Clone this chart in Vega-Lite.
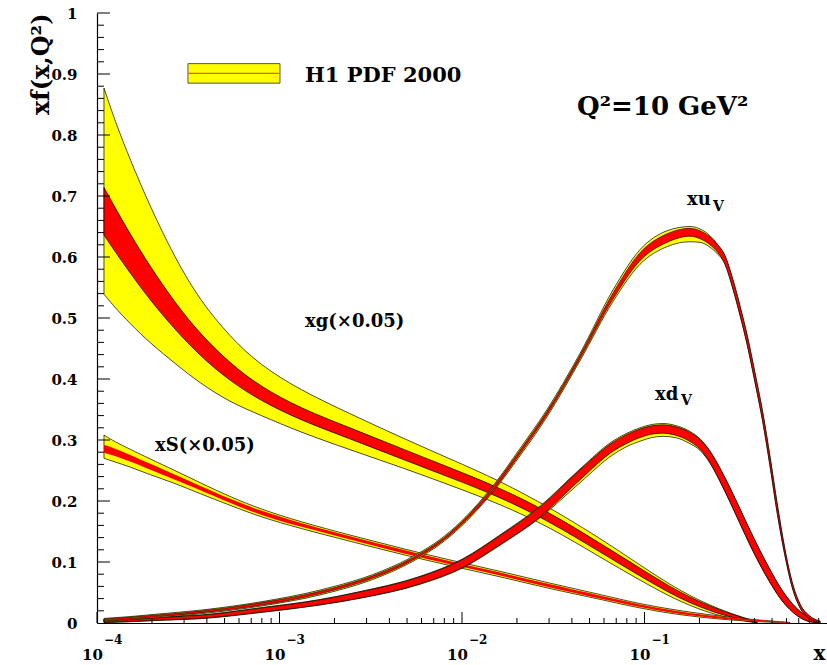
{
  "$schema": "https://vega.github.io/schema/vega-lite/v6.json",
  "width": 730,
  "height": 610,
  "autosize": {"type": "none"},
  "padding": {"left": 97, "top": 13, "right": 0, "bottom": 42},
  "background": "white",
  "config": {"view": {"stroke": null}, "axis": {"grid": false}, "font": "DejaVu Serif"},
  "datasets": {
    "one": [{}],
    "g": [
      {"x": 0.0001092, "yhi": 0.877, "ylo": 0.539, "rhi": 0.714, "rlo": 0.636},
      {"x": 0.0001255, "yhi": 0.823, "ylo": 0.517, "rhi": 0.681, "rlo": 0.609},
      {"x": 0.0001516, "yhi": 0.760, "ylo": 0.491, "rhi": 0.638, "rlo": 0.574},
      {"x": 0.0001952, "yhi": 0.683, "ylo": 0.459, "rhi": 0.5845, "rlo": 0.5295},
      {"x": 0.0002675, "yhi": 0.598, "ylo": 0.4255, "rhi": 0.525, "rlo": 0.481},
      {"x": 0.0003667, "yhi": 0.529, "ylo": 0.393, "rhi": 0.474, "rlo": 0.438},
      {"x": 0.0005356, "yhi": 0.469, "ylo": 0.362, "rhi": 0.4255, "rlo": 0.3965},
      {"x": 0.0007821, "yhi": 0.423, "ylo": 0.341, "rhi": 0.388, "rlo": 0.365},
      {"x": 0.001295, "yhi": 0.382, "ylo": 0.313, "rhi": 0.3523, "rlo": 0.3327},
      {"x": 0.002434, "yhi": 0.343, "ylo": 0.284, "rhi": 0.320, "rlo": 0.302},
      {"x": 0.004574, "yhi": 0.305, "ylo": 0.256, "rhi": 0.287, "rlo": 0.270},
      {"x": 0.008597, "yhi": 0.269, "ylo": 0.226, "rhi": 0.2545, "rlo": 0.2385},
      {"x": 0.01616, "yhi": 0.233, "ylo": 0.195, "rhi": 0.2215, "rlo": 0.2065},
      {"x": 0.03036, "yhi": 0.189, "ylo": 0.157, "rhi": 0.181, "rlo": 0.166},
      {"x": 0.05706, "yhi": 0.139, "ylo": 0.108, "rhi": 0.1307, "rlo": 0.1163},
      {"x": 0.09449, "yhi": 0.095, "ylo": 0.070, "rhi": 0.090, "rlo": 0.077},
      {"x": 0.1565, "yhi": 0.052, "ylo": 0.034, "rhi": 0.049, "rlo": 0.039},
      {"x": 0.2592, "yhi": 0.021, "ylo": 0.010, "rhi": 0.020, "rlo": 0.013},
      {"x": 0.4135, "yhi": 0.002, "ylo": 0.000, "rhi": 0.002, "rlo": 0.000}
    ],
    "s": [
      {"x": 0.0001092, "yhi": 0.308, "ylo": 0.270, "rhi": 0.292, "rlo": 0.279},
      {"x": 0.0001255, "yhi": 0.297, "ylo": 0.264, "rhi": 0.286, "rlo": 0.274},
      {"x": 0.0001516, "yhi": 0.285, "ylo": 0.256, "rhi": 0.276, "rlo": 0.265},
      {"x": 0.0001952, "yhi": 0.269, "ylo": 0.243, "rhi": 0.261, "rlo": 0.251},
      {"x": 0.0002675, "yhi": 0.250, "ylo": 0.229, "rhi": 0.243, "rlo": 0.235},
      {"x": 0.0003667, "yhi": 0.230, "ylo": 0.212, "rhi": 0.225, "rlo": 0.218},
      {"x": 0.0005356, "yhi": 0.207, "ylo": 0.193, "rhi": 0.203, "rlo": 0.197},
      {"x": 0.0007821, "yhi": 0.187, "ylo": 0.174, "rhi": 0.184, "rlo": 0.177},
      {"x": 0.001295, "yhi": 0.166, "ylo": 0.155, "rhi": 0.164, "rlo": 0.158},
      {"x": 0.002434, "yhi": 0.144, "ylo": 0.134, "rhi": 0.142, "rlo": 0.137},
      {"x": 0.004574, "yhi": 0.123, "ylo": 0.113, "rhi": 0.121, "rlo": 0.115},
      {"x": 0.008597, "yhi": 0.103, "ylo": 0.094, "rhi": 0.101, "rlo": 0.096},
      {"x": 0.01616, "yhi": 0.085, "ylo": 0.076, "rhi": 0.083, "rlo": 0.078},
      {"x": 0.03036, "yhi": 0.065, "ylo": 0.056, "rhi": 0.063, "rlo": 0.058},
      {"x": 0.05706, "yhi": 0.047, "ylo": 0.039, "rhi": 0.045, "rlo": 0.040},
      {"x": 0.09449, "yhi": 0.031, "ylo": 0.024, "rhi": 0.030, "rlo": 0.026},
      {"x": 0.1565, "yhi": 0.020, "ylo": 0.013, "rhi": 0.018, "rlo": 0.014},
      {"x": 0.2592, "yhi": 0.011, "ylo": 0.006, "rhi": 0.010, "rlo": 0.007},
      {"x": 0.4135, "yhi": 0.005, "ylo": 0.002, "rhi": 0.005, "rlo": 0.002},
      {"x": 0.627, "yhi": 0.001, "ylo": 0.000, "rhi": 0.001, "rlo": 0.000}
    ],
    "dv": [
      {"x": 0.0001092, "yhi": 0.0055, "ylo": 0.0005, "rhi": 0.005, "rlo": 0.001},
      {"x": 0.0001516, "yhi": 0.007, "ylo": 0.002, "rhi": 0.0065, "rlo": 0.0025},
      {"x": 0.0002214, "yhi": 0.0097, "ylo": 0.0043, "rhi": 0.0092, "rlo": 0.0048},
      {"x": 0.0003667, "yhi": 0.013, "ylo": 0.007, "rhi": 0.0125, "rlo": 0.0075},
      {"x": 0.0007821, "yhi": 0.025, "ylo": 0.017, "rhi": 0.0243, "rlo": 0.0177},
      {"x": 0.001667, "yhi": 0.0385, "ylo": 0.0295, "rhi": 0.038, "rlo": 0.030},
      {"x": 0.002761, "yhi": 0.0515, "ylo": 0.0405, "rhi": 0.051, "rlo": 0.041},
      {"x": 0.005888, "yhi": 0.0765, "ylo": 0.0635, "rhi": 0.0757, "rlo": 0.0643},
      {"x": 0.01013, "yhi": 0.1055, "ylo": 0.0905, "rhi": 0.1046, "rlo": 0.0914},
      {"x": 0.01616, "yhi": 0.1445, "ylo": 0.1275, "rhi": 0.1434, "rlo": 0.1286},
      {"x": 0.02676, "yhi": 0.1915, "ylo": 0.1725, "rhi": 0.1902, "rlo": 0.1738},
      {"x": 0.04432, "yhi": 0.2525, "ylo": 0.230, "rhi": 0.2512, "rlo": 0.2348},
      {"x": 0.06722, "yhi": 0.2985, "ylo": 0.276, "rhi": 0.2964, "rlo": 0.2816},
      {"x": 0.08022, "yhi": 0.3112, "ylo": 0.2895, "rhi": 0.3092, "rlo": 0.2948},
      {"x": 0.09449, "yhi": 0.320, "ylo": 0.298, "rhi": 0.318, "rlo": 0.304},
      {"x": 0.1099, "yhi": 0.3255, "ylo": 0.304, "rhi": 0.3233, "rlo": 0.3097},
      {"x": 0.1263, "yhi": 0.327, "ylo": 0.306, "rhi": 0.3248, "rlo": 0.3112},
      {"x": 0.1470, "yhi": 0.324, "ylo": 0.304, "rhi": 0.322, "rlo": 0.308},
      {"x": 0.1775, "yhi": 0.314, "ylo": 0.294, "rhi": 0.3125, "rlo": 0.2975},
      {"x": 0.2014, "yhi": 0.302, "ylo": 0.283, "rhi": 0.301, "rlo": 0.285},
      {"x": 0.2285, "yhi": 0.282, "ylo": 0.262, "rhi": 0.281, "rlo": 0.263},
      {"x": 0.2592, "yhi": 0.254, "ylo": 0.232, "rhi": 0.2535, "rlo": 0.2325},
      {"x": 0.2941, "yhi": 0.2215, "ylo": 0.1985, "rhi": 0.2215, "rlo": 0.1985},
      {"x": 0.3337, "yhi": 0.187, "ylo": 0.163, "rhi": 0.187, "rlo": 0.163},
      {"x": 0.3785, "yhi": 0.152, "ylo": 0.128, "rhi": 0.152, "rlo": 0.128},
      {"x": 0.4296, "yhi": 0.1185, "ylo": 0.0955, "rhi": 0.1185, "rlo": 0.0955},
      {"x": 0.4872, "yhi": 0.0875, "ylo": 0.0665, "rhi": 0.0875, "rlo": 0.0665},
      {"x": 0.5527, "yhi": 0.059, "ylo": 0.041, "rhi": 0.059, "rlo": 0.041},
      {"x": 0.627, "yhi": 0.036, "ylo": 0.022, "rhi": 0.036, "rlo": 0.022},
      {"x": 0.7114, "yhi": 0.019, "ylo": 0.009, "rhi": 0.019, "rlo": 0.009},
      {"x": 0.8070, "yhi": 0.008, "ylo": 0.002, "rhi": 0.008, "rlo": 0.002},
      {"x": 0.9155, "yhi": 0.002, "ylo": 0.0002, "rhi": 0.002, "rlo": 0.0002}
    ],
    "uv": [
      {"x": 0.0001092, "yhi": 0.0075, "ylo": 0.0025, "rhi": 0.0065, "rlo": 0.0035},
      {"x": 0.0001516, "yhi": 0.0105, "ylo": 0.0055, "rhi": 0.0095, "rlo": 0.0065},
      {"x": 0.0002214, "yhi": 0.015, "ylo": 0.009, "rhi": 0.0135, "rlo": 0.0105},
      {"x": 0.0003667, "yhi": 0.021, "ylo": 0.015, "rhi": 0.0195, "rlo": 0.0165},
      {"x": 0.0007821, "yhi": 0.0345, "ylo": 0.0275, "rhi": 0.033, "rlo": 0.029},
      {"x": 0.001667, "yhi": 0.054, "ylo": 0.046, "rhi": 0.052, "rlo": 0.048},
      {"x": 0.003554, "yhi": 0.084, "ylo": 0.076, "rhi": 0.082, "rlo": 0.078},
      {"x": 0.004996, "yhi": 0.104, "ylo": 0.096, "rhi": 0.102, "rlo": 0.098},
      {"x": 0.008597, "yhi": 0.150, "ylo": 0.142, "rhi": 0.148, "rlo": 0.144},
      {"x": 0.01479, "yhi": 0.225, "ylo": 0.215, "rhi": 0.223, "rlo": 0.217},
      {"x": 0.02078, "yhi": 0.286, "ylo": 0.274, "rhi": 0.283, "rlo": 0.277},
      {"x": 0.02923, "yhi": 0.350, "ylo": 0.338, "rhi": 0.347, "rlo": 0.341},
      {"x": 0.04432, "yhi": 0.442, "ylo": 0.430, "rhi": 0.439, "rlo": 0.433},
      {"x": 0.06722, "yhi": 0.546, "ylo": 0.527, "rhi": 0.541, "rlo": 0.531},
      {"x": 0.09449, "yhi": 0.612, "ylo": 0.588, "rhi": 0.607, "rlo": 0.594},
      {"x": 0.1329, "yhi": 0.643, "ylo": 0.617, "rhi": 0.638, "rlo": 0.624},
      {"x": 0.1775, "yhi": 0.650, "ylo": 0.625, "rhi": 0.647, "rlo": 0.634},
      {"x": 0.2014, "yhi": 0.646, "ylo": 0.624, "rhi": 0.643, "rlo": 0.630},
      {"x": 0.2285, "yhi": 0.635, "ylo": 0.616, "rhi": 0.633, "rlo": 0.620},
      {"x": 0.2496, "yhi": 0.622, "ylo": 0.606, "rhi": 0.621, "rlo": 0.609},
      {"x": 0.2761, "yhi": 0.602, "ylo": 0.588, "rhi": 0.602, "rlo": 0.588},
      {"x": 0.3053, "yhi": 0.5625, "ylo": 0.5475, "rhi": 0.5625, "rlo": 0.5475},
      {"x": 0.3337, "yhi": 0.5195, "ylo": 0.5045, "rhi": 0.5195, "rlo": 0.5045},
      {"x": 0.3645, "yhi": 0.4725, "ylo": 0.4575, "rhi": 0.4725, "rlo": 0.4575},
      {"x": 0.4032, "yhi": 0.4095, "ylo": 0.3945, "rhi": 0.4095, "rlo": 0.3945},
      {"x": 0.4460, "yhi": 0.3425, "ylo": 0.3275, "rhi": 0.3425, "rlo": 0.3275},
      {"x": 0.4872, "yhi": 0.2725, "ylo": 0.2575, "rhi": 0.2725, "rlo": 0.2575},
      {"x": 0.5321, "yhi": 0.1975, "ylo": 0.1825, "rhi": 0.1975, "rlo": 0.1825},
      {"x": 0.5888, "yhi": 0.120, "ylo": 0.110, "rhi": 0.120, "rlo": 0.110},
      {"x": 0.6511, "yhi": 0.062, "ylo": 0.054, "rhi": 0.062, "rlo": 0.054},
      {"x": 0.7114, "yhi": 0.031, "ylo": 0.025, "rhi": 0.031, "rlo": 0.025},
      {"x": 0.8070, "yhi": 0.011, "ylo": 0.007, "rhi": 0.011, "rlo": 0.007},
      {"x": 0.9155, "yhi": 0.003, "ylo": 0.001, "rhi": 0.003, "rlo": 0.001}
    ],
    "ymajor": [{"v": 0.1}, {"v": 0.2}, {"v": 0.3}, {"v": 0.4}, {"v": 0.5}, {"v": 0.6}, {"v": 0.7}, {"v": 0.8}, {"v": 0.9}, {"v": 1.0}],
    "yminor": [
      {"v": 0.02}, {"v": 0.04}, {"v": 0.06}, {"v": 0.08},
      {"v": 0.12}, {"v": 0.14}, {"v": 0.16}, {"v": 0.18},
      {"v": 0.22}, {"v": 0.24}, {"v": 0.26}, {"v": 0.28},
      {"v": 0.32}, {"v": 0.34}, {"v": 0.36}, {"v": 0.38},
      {"v": 0.42}, {"v": 0.44}, {"v": 0.46}, {"v": 0.48},
      {"v": 0.52}, {"v": 0.54}, {"v": 0.56}, {"v": 0.58},
      {"v": 0.62}, {"v": 0.64}, {"v": 0.66}, {"v": 0.68},
      {"v": 0.72}, {"v": 0.74}, {"v": 0.76}, {"v": 0.78},
      {"v": 0.82}, {"v": 0.84}, {"v": 0.86}, {"v": 0.88},
      {"v": 0.92}, {"v": 0.94}, {"v": 0.96}, {"v": 0.98}
    ],
    "decades": [{"v": 0.0001, "e": "−4"}, {"v": 0.001, "e": "−3"}, {"v": 0.01, "e": "−2"}, {"v": 0.1, "e": "−1"}],
    "xminor": [
      {"v": 0.0002}, {"v": 0.0003}, {"v": 0.0004}, {"v": 0.0005}, {"v": 0.0006}, {"v": 0.0007}, {"v": 0.0008}, {"v": 0.0009},
      {"v": 0.002}, {"v": 0.003}, {"v": 0.004}, {"v": 0.005}, {"v": 0.006}, {"v": 0.007}, {"v": 0.008}, {"v": 0.009},
      {"v": 0.02}, {"v": 0.03}, {"v": 0.04}, {"v": 0.05}, {"v": 0.06}, {"v": 0.07}, {"v": 0.08}, {"v": 0.09},
      {"v": 0.2}, {"v": 0.3}, {"v": 0.4}, {"v": 0.5}, {"v": 0.6}, {"v": 0.7}, {"v": 0.8}, {"v": 0.9}
    ]
  },
  "layer": [
    {
      "data": {"name": "g"},
      "mark": {"type": "area", "interpolate": "basis", "fill": "#ffff00", "stroke": "#000000", "strokeWidth": 0.7},
      "encoding": {
        "x": {"field": "x", "type": "quantitative",
          "scale": {"type": "log", "domain": [0.0001, 1], "nice": false},
          "axis": {"values": [0.0001, 0.001, 0.01, 0.1], "ticks": false, "labelExpr": "'10'",
            "labelFont": "DejaVu Serif", "labelFontWeight": "bold", "labelFontSize": 15, "labelColor": "black",
            "labelPadding": 24, "labelOffset": -5, "labelFlush": false, "labelOverlap": false, "labelBound": false,
            "labelBaseline": "top", "labelAlign": "center",
            "domainColor": "black", "domainWidth": 1.2,
            "title": "x", "titleFont": "DejaVu Serif", "titleFontWeight": "bold", "titleFontSize": 20, "titleColor": "black",
            "titleX": 722, "titleY": 36, "titleAlign": "center", "titleBaseline": "alphabetic"}},
        "y": {"field": "yhi", "type": "quantitative",
          "scale": {"domain": [0, 1], "nice": false, "zero": false},
          "axis": {"values": [0, 0.1, 0.2, 0.3, 0.4, 0.5, 0.6, 0.7, 0.8, 0.9, 1], "ticks": false, "format": ".1~f",
            "labelFont": "DejaVu Serif", "labelFontWeight": "bold", "labelFontSize": 15, "labelColor": "black",
            "labelPadding": 20, "labelFlush": false, "labelOverlap": false, "labelBound": false,
            "domainColor": "black", "domainWidth": 1.2,
            "title": "xf(x,Q²)", "titleFont": "DejaVu Serif", "titleFontWeight": "bold", "titleFontSize": 24, "titleColor": "black",
            "titleAngle": 270, "titleAlign": "right", "titleBaseline": "alphabetic", "titleX": -49, "titleY": 0}},
        "y2": {"field": "ylo"}
      }
    },
    {
      "data": {"name": "g"},
      "mark": {"type": "area", "interpolate": "basis", "fill": "#ff0000", "stroke": "#000000", "strokeWidth": 0.7},
      "encoding": {"x": {"field": "x", "type": "quantitative"}, "y": {"field": "rhi", "type": "quantitative"}, "y2": {"field": "rlo"}}
    },
    {
      "data": {"name": "s"},
      "mark": {"type": "area", "interpolate": "basis", "fill": "#ffff00", "stroke": "#000000", "strokeWidth": 0.7},
      "encoding": {"x": {"field": "x", "type": "quantitative"}, "y": {"field": "yhi", "type": "quantitative"}, "y2": {"field": "ylo"}}
    },
    {
      "data": {"name": "s"},
      "mark": {"type": "area", "interpolate": "basis", "fill": "#ff0000", "strokeWidth": 0},
      "encoding": {"x": {"field": "x", "type": "quantitative"}, "y": {"field": "rhi", "type": "quantitative"}, "y2": {"field": "rlo"}}
    },
    {
      "data": {"name": "dv"},
      "mark": {"type": "area", "interpolate": "monotone", "fill": "#ffff00", "stroke": "#000000", "strokeWidth": 0.7},
      "encoding": {"x": {"field": "x", "type": "quantitative"}, "y": {"field": "yhi", "type": "quantitative"}, "y2": {"field": "ylo"}}
    },
    {
      "data": {"name": "dv"},
      "mark": {"type": "area", "interpolate": "monotone", "fill": "#ff0000", "stroke": "#000000", "strokeWidth": 0.7},
      "encoding": {"x": {"field": "x", "type": "quantitative"}, "y": {"field": "rhi", "type": "quantitative"}, "y2": {"field": "rlo"}}
    },
    {
      "data": {"name": "uv"},
      "mark": {"type": "area", "interpolate": "monotone", "fill": "#ffff00", "stroke": "#000000", "strokeWidth": 0.7},
      "encoding": {"x": {"field": "x", "type": "quantitative"}, "y": {"field": "yhi", "type": "quantitative"}, "y2": {"field": "ylo"}}
    },
    {
      "data": {"name": "uv"},
      "mark": {"type": "area", "interpolate": "monotone", "fill": "#ff0000", "stroke": "#000000", "strokeWidth": 0.6},
      "encoding": {"x": {"field": "x", "type": "quantitative"}, "y": {"field": "rhi", "type": "quantitative"}, "y2": {"field": "rlo"}}
    },
    {
      "data": {"name": "ymajor"},
      "mark": {"type": "rule", "color": "black", "strokeWidth": 1},
      "encoding": {"y": {"field": "v", "type": "quantitative"}, "x": {"datum": 0.0001, "type": "quantitative"}, "x2": {"datum": 0.0001178}}
    },
    {
      "data": {"name": "yminor"},
      "mark": {"type": "rule", "color": "black", "strokeWidth": 1},
      "encoding": {"y": {"field": "v", "type": "quantitative"}, "x": {"datum": 0.0001, "type": "quantitative"}, "x2": {"datum": 0.0001092}}
    },
    {
      "data": {"name": "decades"},
      "mark": {"type": "rule", "color": "black", "strokeWidth": 1},
      "encoding": {"x": {"field": "v", "type": "quantitative"}, "y": {"datum": 0, "type": "quantitative"}, "y2": {"datum": 0.018}}
    },
    {
      "data": {"name": "xminor"},
      "mark": {"type": "rule", "color": "black", "strokeWidth": 1},
      "encoding": {"x": {"field": "v", "type": "quantitative"}, "y": {"datum": 0, "type": "quantitative"}, "y2": {"datum": 0.0082}}
    },
    {
      "data": {"name": "decades"},
      "mark": {"type": "text", "font": "DejaVu Serif", "fontWeight": "bold", "fontSize": 12, "align": "left", "baseline": "middle", "dx": 7, "dy": 17, "color": "black"},
      "encoding": {"x": {"field": "v", "type": "quantitative"}, "y": {"datum": 0, "type": "quantitative"}, "text": {"field": "e"}}
    },
    {
      "data": {"name": "one"},
      "mark": {"type": "rect", "fill": "#ffff00", "stroke": "#555555", "strokeWidth": 1},
      "encoding": {"x": {"datum": 0.000315, "type": "quantitative"}, "x2": {"datum": 0.001006}, "y": {"datum": 0.917, "type": "quantitative"}, "y2": {"datum": 0.885}}
    },
    {
      "data": {"name": "one"},
      "mark": {"type": "rule", "color": "#ff5a00", "strokeWidth": 1.2},
      "encoding": {"x": {"datum": 0.000317, "type": "quantitative"}, "x2": {"datum": 0.001003}, "y": {"datum": 0.901, "type": "quantitative"}}
    },
    {
      "data": {"name": "one"},
      "mark": {"type": "text", "font": "DejaVu Serif", "fontWeight": "bold", "fontSize": 21, "align": "left", "baseline": "alphabetic", "color": "black"},
      "encoding": {"x": {"datum": 0.001379, "type": "quantitative"}, "y": {"datum": 0.887, "type": "quantitative"}, "text": {"value": "H1 PDF 2000"}}
    },
    {
      "data": {"name": "one"},
      "mark": {"type": "text", "font": "DejaVu Serif", "fontWeight": "bold", "fontSize": 26, "align": "left", "baseline": "alphabetic", "color": "black"},
      "encoding": {"x": {"datum": 0.04267, "type": "quantitative"}, "y": {"datum": 0.833, "type": "quantitative"}, "text": {"value": "Q²=10 GeV²"}}
    },
    {
      "data": {"name": "one"},
      "mark": {"type": "text", "font": "DejaVu Serif", "fontWeight": "bold", "fontSize": 18, "align": "left", "baseline": "alphabetic", "color": "black"},
      "encoding": {"x": {"datum": 0.001379, "type": "quantitative"}, "y": {"datum": 0.485, "type": "quantitative"}, "text": {"value": "xg(×0.05)"}}
    },
    {
      "data": {"name": "one"},
      "mark": {"type": "text", "font": "DejaVu Serif", "fontWeight": "bold", "fontSize": 18, "align": "left", "baseline": "alphabetic", "color": "black"},
      "encoding": {"x": {"datum": 0.0002079, "type": "quantitative"}, "y": {"datum": 0.282, "type": "quantitative"}, "text": {"value": "xS(×0.05)"}}
    },
    {
      "data": {"name": "one"},
      "mark": {"type": "text", "font": "DejaVu Serif", "fontWeight": "bold", "fontSize": 18, "align": "left", "baseline": "alphabetic", "color": "black"},
      "encoding": {"x": {"datum": 0.171, "type": "quantitative"}, "y": {"datum": 0.685, "type": "quantitative"}, "text": {"value": "xu"}}
    },
    {
      "data": {"name": "one"},
      "mark": {"type": "text", "font": "DejaVu Serif", "fontWeight": "bold", "fontSize": 14, "align": "left", "baseline": "alphabetic", "color": "black"},
      "encoding": {"x": {"datum": 0.2373, "type": "quantitative"}, "y": {"datum": 0.675, "type": "quantitative"}, "text": {"value": "V"}}
    },
    {
      "data": {"name": "one"},
      "mark": {"type": "text", "font": "DejaVu Serif", "fontWeight": "bold", "fontSize": 18, "align": "left", "baseline": "alphabetic", "color": "black"},
      "encoding": {"x": {"datum": 0.1142, "type": "quantitative"}, "y": {"datum": 0.3656, "type": "quantitative"}, "text": {"value": "xd"}}
    },
    {
      "data": {"name": "one"},
      "mark": {"type": "text", "font": "DejaVu Serif", "fontWeight": "bold", "fontSize": 14, "align": "left", "baseline": "alphabetic", "color": "black"},
      "encoding": {"x": {"datum": 0.1585, "type": "quantitative"}, "y": {"datum": 0.357, "type": "quantitative"}, "text": {"value": "V"}}
    }
  ]
}
